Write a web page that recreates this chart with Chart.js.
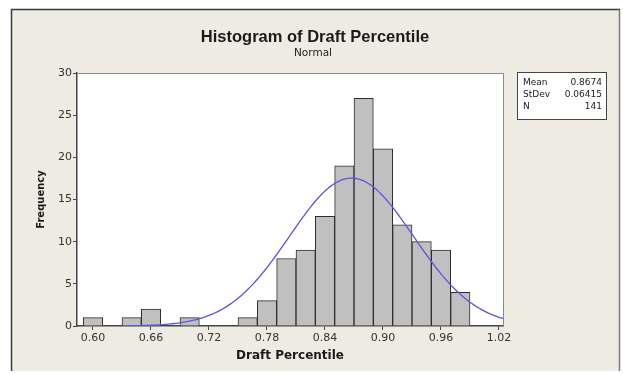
<!DOCTYPE html>
<html>
<head>
<meta charset="utf-8">
<script src="https://cdn.jsdelivr.net/npm/chart.js@4.4.1/dist/chart.umd.min.js"></script>
<style>
  html, body { margin: 0; padding: 0; background: #ffffff; }
  #wrap { width: 623px; height: 374px; position: relative; }
</style>
</head>
<body>
<div id="wrap"><canvas id="chart" width="623" height="374"></canvas></div>
<script>
// Histogram bins (bin centres) and counts
const BIN_CENTERS = [0.60, 0.64, 0.66, 0.70, 0.76, 0.78, 0.80, 0.82, 0.84, 0.86, 0.88, 0.90, 0.92, 0.94, 0.96, 0.98];
const COUNTS      = [1,    1,    2,    1,    1,    3,    8,    9,    13,   19,   27,   21,   12,   10,   9,    4];
const BIN_WIDTH = 0.02;

// Fitted normal summary
const MEAN = 0.8674;
const STDEV = 0.06415;
const N = 141;

// Axis ticks
const X_TICKS = [0.60, 0.66, 0.72, 0.78, 0.84, 0.90, 0.96, 1.02];
const Y_TICKS = [0, 5, 10, 15, 20, 25, 30];

// Normal curve scaled to the histogram's counts
const CURVE_FROM = 0.636, CURVE_TO = 1.026, CURVE_STEP = 0.002;
const curve = [];
for (let x = CURVE_FROM; x <= CURVE_TO + 1e-9; x += CURVE_STEP) {
  const z = (x - MEAN) / STDEV;
  const y = N * BIN_WIDTH * Math.exp(-0.5 * z * z) / (STDEV * Math.sqrt(2 * Math.PI));
  curve.push({ x: x, y: y });
}

const bars = BIN_CENTERS.map((c, i) => ({ x: c, y: COUNTS[i] }));

// Panel background, plot frame, titles and the summary box
const decor = {
  id: 'decor',
  beforeDraw(chart) {
    const ctx = chart.ctx;
    const a = chart.chartArea;
    ctx.save();
    ctx.fillStyle = '#eeebe2';
    ctx.fillRect(11, 9, 609, 362);
    ctx.strokeStyle = '#3a3a3a';
    ctx.lineWidth = 1.5;
    ctx.beginPath();
    ctx.moveTo(11.5, 371); ctx.lineTo(11.5, 9.5); ctx.lineTo(620, 9.5);
    ctx.stroke();
    ctx.strokeStyle = '#7a7a7a';
    ctx.beginPath();
    ctx.moveTo(619.5, 9.5); ctx.lineTo(619.5, 371);
    ctx.stroke();
    ctx.fillStyle = '#ffffff';
    ctx.fillRect(a.left, a.top, a.right - a.left, a.bottom - a.top);
    ctx.restore();
  },
  afterDraw(chart) {
    const ctx = chart.ctx;
    const a = chart.chartArea;
    ctx.save();
    // frame on top and right of plot
    ctx.strokeStyle = '#8a8a8a';
    ctx.lineWidth = 1;
    ctx.beginPath();
    ctx.moveTo(a.left, a.top + 0.5); ctx.lineTo(a.right + 0.5, a.top + 0.5); ctx.lineTo(a.right + 0.5, a.bottom);
    ctx.stroke();

    // titles
    ctx.fillStyle = '#1a1a1a';
    ctx.textAlign = 'center';
    ctx.textBaseline = 'middle';
    ctx.font = 'bold 16.5px "Liberation Sans", Arial, sans-serif';
    ctx.fillText('Histogram of Draft Percentile', 315, 37);
    ctx.font = '10.5px "DejaVu Sans", sans-serif';
    ctx.fillStyle = '#222';
    ctx.fillText('Normal', 313, 53);

    // summary box
    ctx.fillStyle = '#ffffff';
    ctx.fillRect(517, 72, 89, 47);
    ctx.strokeStyle = '#444';
    ctx.lineWidth = 1;
    ctx.strokeRect(517.5, 72.5, 89, 47);
    ctx.fillStyle = '#222';
    ctx.font = '9px "DejaVu Sans", sans-serif';
    const rows = [['Mean', MEAN.toFixed(4)], ['StDev', STDEV.toFixed(5)], ['N', String(N)]];
    rows.forEach((r, i) => {
      const y = 83 + i * 12;
      ctx.textAlign = 'left';
      ctx.fillText(r[0], 523, y);
      ctx.textAlign = 'right';
      ctx.fillText(r[1], 602, y);
    });
    ctx.restore();
  }
};

new Chart(document.getElementById('chart'), {
  type: 'bar',
  data: {
    datasets: [
      {
        type: 'line',
        data: curve,
        borderColor: '#5b55e0',
        borderWidth: 1.3,
        pointRadius: 0,
        tension: 0,
        fill: false,
        order: 0
      },
      {
        type: 'bar',
        data: bars,
        backgroundColor: '#c0c0c0',
        borderColor: '#2e2e2e',
        borderWidth: 1,
        barPercentage: 1,
        categoryPercentage: 1,
        order: 1
      }
    ]
  },
  options: {
    responsive: false,
    animation: false,
    layout: { padding: { top: 73, right: 120, bottom: 0, left: 0 } },
    plugins: { legend: { display: false }, tooltip: { enabled: false } },
    scales: {
      x: {
        type: 'linear',
        offset: false,
        min: 0.58345,
        max: 1.02414,
        afterFit(s) { s.height = 48; },
        afterBuildTicks(s) { s.ticks = X_TICKS.map(v => ({ value: v })); },
        grid: { offset: false, drawOnChartArea: false, drawTicks: true, tickLength: 4, color: '#444' },
        border: { display: true, color: '#444', width: 1.5 },
        ticks: {
          padding: 2,
          color: '#333',
          font: { family: '"DejaVu Sans", sans-serif', size: 11 },
          maxRotation: 0,
          callback: v => Number(v).toFixed(2)
        },
        title: {
          display: true,
          text: 'Draft Percentile',
          color: '#1a1a1a',
          font: { family: '"DejaVu Sans", sans-serif', size: 12, weight: 'bold' },
          padding: { top: 2, bottom: 11 }
        }
      },
      y: {
        min: 0,
        max: 30,
        afterFit(s) { s.width = 77; },
        afterBuildTicks(s) { s.ticks = Y_TICKS.map(v => ({ value: v })); },
        grid: { drawOnChartArea: false, drawTicks: true, tickLength: 4, color: '#444' },
        border: { display: true, color: '#444', width: 1.5 },
        ticks: {
          padding: 1,
          color: '#333',
          font: { family: '"DejaVu Sans", sans-serif', size: 11 }
        },
        title: {
          display: true,
          text: 'Frequency',
          color: '#1a1a1a',
          font: { family: '"DejaVu Sans", sans-serif', size: 10, weight: 'bold' },
          padding: { top: 35, bottom: 0 }
        }
      }
    }
  },
  plugins: [decor]
});
</script>
</body>
</html>
